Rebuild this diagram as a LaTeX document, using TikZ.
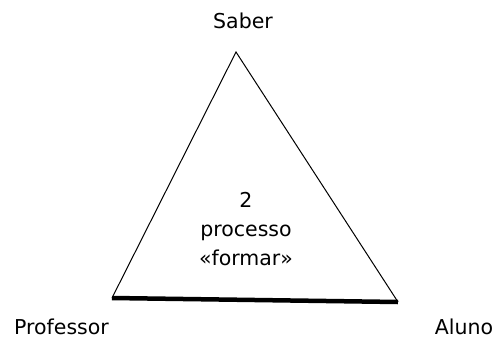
\documentclass[tikz,border=0pt]{standalone}
\usepackage{fontspec}
\setmainfont{DejaVu Sans}
\tikzset{
  lbl/.style={inner sep=0pt, anchor=base, font=\fontsize{20.5}{29}\selectfont},
  side/.style={line width=1pt, black},
  basebar/.style={line width=4.5pt, black}
}
\begin{document}
\begin{tikzpicture}[x=1pt,y=-1pt]
\useasboundingbox (0,0) rectangle (496,338);
\coordinate (A) at (236,52);
\coordinate (P) at (112,298);
\coordinate (L) at (398,302);
\draw[side] (P) -- (A) -- (L);
\draw[basebar] (P) -- (L);
\node[lbl] (saber) at (243,28) {Saber};
\node[lbl] (prof) at (61.5,334) {Professor};
\node[lbl] (aluno) at (464,334) {Aluno};
\node[lbl, anchor=north, align=center] (mid) at (246,192) {2\\processo\\«formar»};
\end{tikzpicture}
\end{document}
